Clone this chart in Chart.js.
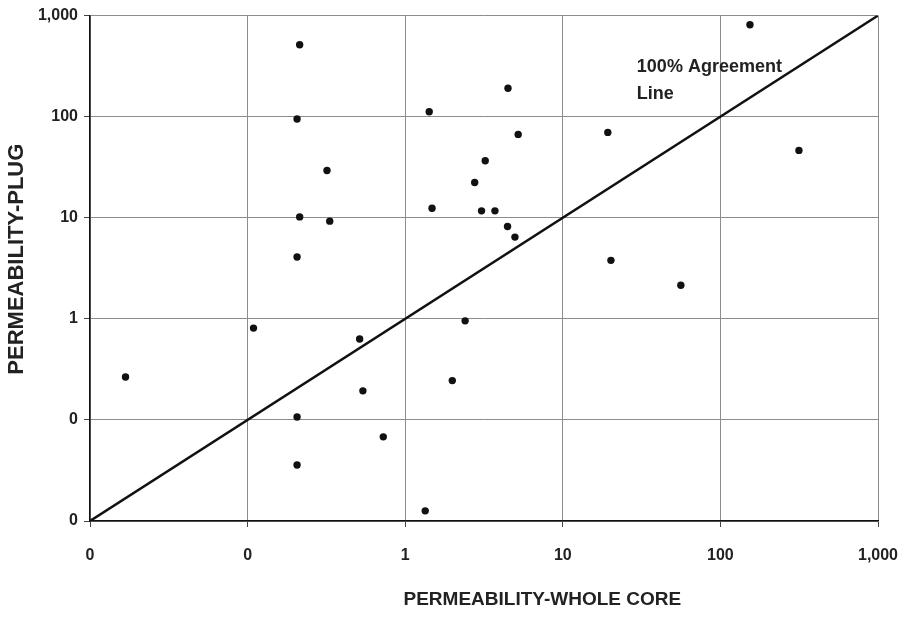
<!DOCTYPE html>
<html lang="en">
<head>
    <meta charset="UTF-8">
    <title>Permeability - plug vs whole core</title>
    <script src="https://cdn.jsdelivr.net/npm/chart.js"></script>
    <style>
        body { margin: 0; background: #fff; }
        canvas { display: block; }
    </style>
</head>
<body>
    <canvas id="grafico" width="907" height="617"></canvas>

    <script>
        // permeability (whole core on x, plug on y)
        const wholeCore = [0.0168, 0.109, 0.214, 0.206, 0.319, 0.214, 0.332, 0.206, 1.42, 1.48,
            4.49, 5.21, 3.22, 2.76, 3.05, 3.71, 4.46, 4.97, 19.3, 20.2,
            56.1, 154, 315, 0.514, 0.539, 0.206, 0.726, 0.206, 1.34, 1.99, 2.40];
        const plug = [0.266, 0.81, 515, 94.7, 29.3, 10.2, 9.26, 4.09, 112, 12.4,
            191, 66.8, 36.7, 22.3, 11.7, 11.7, 8.2, 6.44, 69.9, 3.79,
            2.15, 811, 46.4, 0.631, 0.194, 0.107, 0.068, 0.0358, 0.0126, 0.245, 0.955];

        // 100% agreement line ends
        const lineX = [0.01, 1000];
        const lineY = [0.01, 1000];

        const tickVals = [0.01, 0.1, 1, 10, 100, 1000];
        const labelText = ["100% Agreement", "Line"];
        const labelAt = { x: 29.5, y: 310 };
        const xTitle = "PERMEABILITY-WHOLE CORE";

        const font = "'Liberation Sans', Arial, sans-serif";
        const textColor = "#222";

        const fmt = v => v < 1 ? "0" : v.toLocaleString("en-US");

        // draws the label next to the diagonal and the x title (sits right of centre in the original)
        const etiqueta = {
            id: "etiqueta",
            afterDatasetsDraw(chart) {
                const { ctx, scales, chartArea } = chart;
                const px = scales.x.getPixelForValue(labelAt.x);
                const py = scales.y.getPixelForValue(labelAt.y);
                ctx.save();
                ctx.font = "bold 18px " + font;
                ctx.fillStyle = textColor;
                ctx.textBaseline = "middle";
                ctx.textAlign = "left";
                labelText.forEach((t, i) => ctx.fillText(t, px, py + i * 27));

                ctx.font = "bold 19px " + font;
                ctx.textAlign = "center";
                const tx = chartArea.left + (chartArea.right - chartArea.left) * 0.574;
                ctx.fillText(xTitle, tx, chart.height - 17);
                ctx.restore();
            }
        };

        const ctx = document.getElementById("grafico").getContext("2d");
        new Chart(ctx, {
            data: {
                datasets: [
                    {
                        type: "line",
                        data: lineX.map((x, i) => ({ x: x, y: lineY[i] })),
                        borderColor: "#111",
                        borderWidth: 2.5,
                        pointRadius: 0,
                        fill: false
                    },
                    {
                        type: "scatter",
                        data: wholeCore.map((x, i) => ({ x: x, y: plug[i] })),
                        backgroundColor: "#111",
                        borderWidth: 0,
                        pointRadius: 3.7
                    }
                ]
            },
            options: {
                responsive: false,
                animation: false,
                devicePixelRatio: 1,
                layout: { padding: { top: 14, right: 29, left: 0, bottom: 0 } },
                plugins: { legend: { display: false }, tooltip: { enabled: false } },
                scales: {
                    x: {
                        type: "logarithmic",
                        min: 0.01,
                        max: 1000,
                        afterBuildTicks: s => { s.ticks = tickVals.map(v => ({ value: v })); },
                        afterFit: s => { s.height = 96; s.paddingLeft = 0; s.paddingRight = 0; },
                        grid: { color: "#8c8c8c", lineWidth: 1, tickLength: 6, tickColor: "#444" },
                        border: { color: "#111", width: 1.5 },
                        ticks: {
                            callback: v => fmt(v),
                            color: textColor,
                            font: { family: font, size: 16, weight: "bold" },
                            padding: 19,
                            maxRotation: 0,
                            autoSkip: false
                        }
                    },
                    y: {
                        type: "logarithmic",
                        min: 0.01,
                        max: 1000,
                        afterBuildTicks: s => { s.ticks = tickVals.map(v => ({ value: v })); },
                        afterFit: s => { s.width = 90; },
                        grid: { color: "#8c8c8c", lineWidth: 1, tickLength: 6, tickColor: "#444" },
                        border: { color: "#111", width: 1.5 },
                        ticks: {
                            callback: v => fmt(v),
                            color: textColor,
                            font: { family: font, size: 16, weight: "bold" },
                            padding: 6,
                            autoSkip: false
                        },
                        title: {
                            display: true,
                            text: "   PERMEABILITY-PLUG",
                            color: textColor,
                            font: { family: font, size: 22, weight: "bold" },
                            padding: { top: 4, bottom: 0 }
                        }
                    }
                }
            },
            plugins: [etiqueta]
        });
    </script>
</body>
</html>
